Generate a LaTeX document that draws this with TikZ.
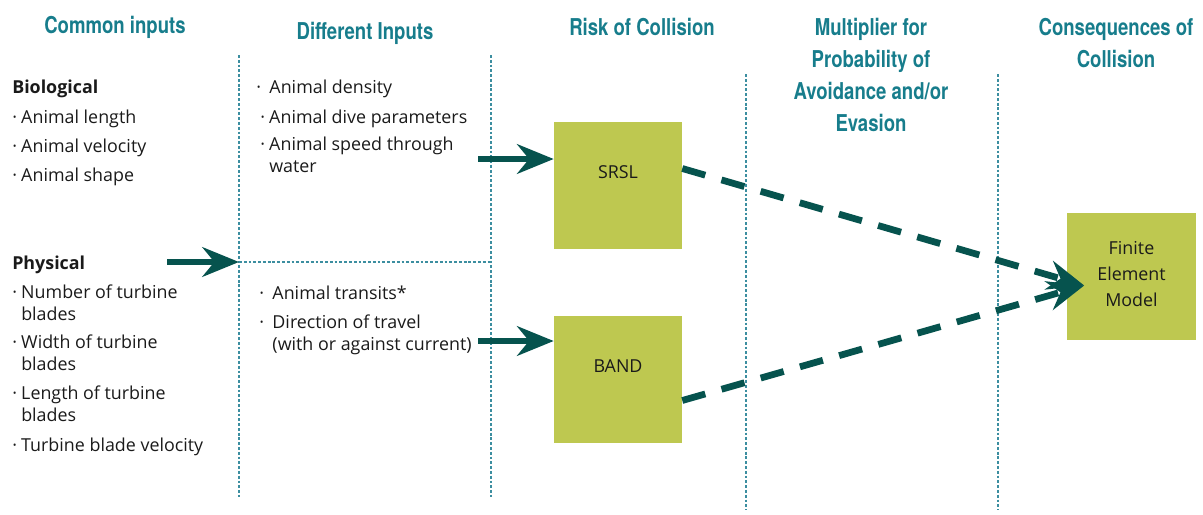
\documentclass[tikz,border=0pt]{standalone}
\usepackage{fontspec}
\setmainfont{Open Sans}
\newfontfamily\headfont[FakeStretch=0.8]{TeX Gyre Heros}
\usetikzlibrary{arrows.meta, positioning, calc}
\definecolor{headteal}{HTML}{177D8C}
\definecolor{divteal}{HTML}{3C8EA0}
\definecolor{arrowteal}{HTML}{06534E}
\definecolor{boxgreen}{HTML}{BEC850}
\definecolor{ink}{HTML}{1A1A1A}
\tikzset{
  header/.style={
    font=\headfont\bfseries\fontsize{16.5}{22.8}\selectfont,
    text=headteal, align=center, inner sep=0pt
  },
  item/.style={anchor=base west, align=left, inner sep=0pt,
               font=\fontsize{12.7}{15}\selectfont, text=ink},
  group/.style={item, font=\bfseries\fontsize{12.7}{15}\selectfont},
  model/.style={
    rectangle, fill=boxgreen, draw=none,
    minimum width=3.2cm, minimum height=3.175cm, inner sep=0pt,
    align=center, font=\fontsize{12.7}{18.5}\selectfont, text=ink
  },
  divider/.style={draw=divteal, line width=0.9pt, dash pattern=on 2pt off 1.4pt},
  bigarrow/.style={-{Stealth[length=26pt, width=21pt, inset=8.5pt]},
                   line width=4.3pt, draw=arrowteal},
  dasharrow/.style={bigarrow, line width=4.8pt, dash pattern=on 17pt off 12pt},
}

\begin{document}
\begin{tikzpicture}[x=0.025cm, y=-0.025cm]
  \useasboundingbox (0,0) rectangle (1203,514);

  % column titles
  \node[header] (hcommon) at (115,27) {Common inputs};
  \node[header] (hdiff) at (365,33) {Different Inputs};
  \node[header] (hrisk) at (642,27) {Risk of Collision};
  \node[header] (hmult) at (871,75) {Multiplier for\\Probability of\\Avoidance and/or\\Evasion};
  \node[header] (hcons) at (1116,43) {Consequences of\\Collision};

  % column dividers
  \draw[divider] (239,55) -- (239,497);
  \draw[divider] (491,55) -- (491,497);
  \draw[divider] (746,74) -- (746,510);
  \draw[divider] (998,74) -- (998,510);
  \draw[divider] (239,262) -- (491,262);
  \coordinate (split) at (239,262);

  % common inputs (multi-line items sit on their last baseline)
  \node[group] (bio) at (12,93) {Biological};
  \node[item] (bio1) at (12,123) {·\hspace{3pt}Animal length};
  \node[item] (bio2) at (12,152) {·\hspace{3pt}Animal velocity};
  \node[item] (bio3) at (12,181) {·\hspace{3pt}Animal shape};
  \node[group] (phys) at (12,269) {Physical};
  \node[item] (phys1) at (12,320) {·\hspace{3pt}Number of turbine\\\phantom{·\hspace{3pt}}blades};
  \node[item] (phys2) at (12,370) {·\hspace{3pt}Width of turbine\\\phantom{·\hspace{3pt}}blades};
  \node[item] (phys3) at (12,421) {·\hspace{3pt}Length of turbine\\\phantom{·\hspace{3pt}}blades};
  \node[item] (phys4) at (12,451) {·\hspace{3pt}Turbine blade velocity};

  % different inputs
  \node[item] (diff1) at (256,93) {·\hspace{6pt}Animal density};
  \node[item] (diff2) at (260,123) {·\hspace{3pt}Animal dive parameters};
  \node[item] (diff3) at (260,172) {·\hspace{3pt}Animal speed through\\\phantom{·\hspace{3pt}}water};
  \node[item] (diff4) at (259,299) {·\hspace{6pt}Animal transits*};
  \node[item] (diff5) at (259,350) {·\hspace{6pt}Direction of travel\\\phantom{·\hspace{6pt}}(with or against current)};

  % models
  \node[model, text depth=19pt] (srsl) at (618,185.5) {SRSL};
  \node[model, text depth=19pt] (band) at (618,379.5) {BAND};
  \node[model, text depth=4.3pt] (fem) at (1131.5,276.5) {Finite\\Element\\Model};

  % inputs
  \coordinate (physin) at (167,262);
  \coordinate (srslin) at (478,159);
  \coordinate (bandin) at (478,341);
  \draw[bigarrow] (physin) -- (split);
  \draw[bigarrow] (srslin) -- (srslin -| srsl.west);
  \draw[bigarrow] (bandin) -- (bandin -| band.west);

  % into consequences
  \coordinate (femin) at ($(fem.west)+(17,9)$);
  \draw[dasharrow] ($(srsl.east)+(0,-17)$) -- (femin);
  \draw[dasharrow] ($(band.east)+(0,21)$) -- (femin);
\end{tikzpicture}
\end{document}
